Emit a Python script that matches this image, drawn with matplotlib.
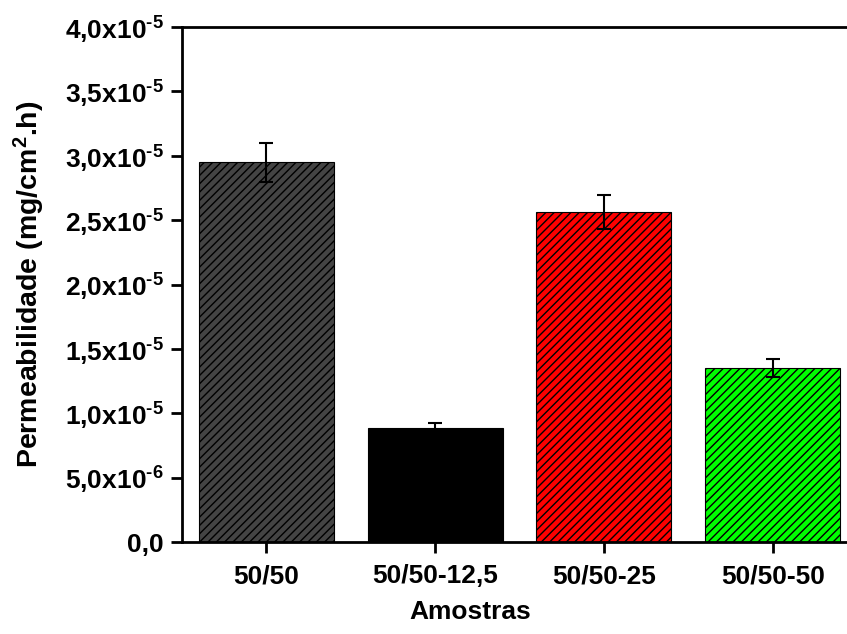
import matplotlib
matplotlib.use("Agg")
import matplotlib.pyplot as plt
from matplotlib.ticker import FixedLocator, FuncFormatter

plt.rcParams["font.family"] = ["Liberation Sans", "DejaVu Sans"]
plt.rcParams["font.weight"] = "bold"
plt.rcParams["mathtext.fontset"] = "custom"
plt.rcParams["mathtext.rm"] = "Liberation Sans:bold"
plt.rcParams["mathtext.bf"] = "Liberation Sans:bold"
plt.rcParams["mathtext.default"] = "bf"
plt.rcParams["hatch.linewidth"] = 1.0

samples = ["50/50", "50/50-12,5", "50/50-25", "50/50-50"]
permeability = [2.95e-5, 0.885e-5, 2.565e-5, 1.355e-5]
errors = [0.15e-5, 0.04e-5, 0.13e-5, 0.07e-5]
colors = ["#444444", "#000000", "#ff0000", "#00ff00"]

y_ticks = [0, 5e-6, 1e-5, 1.5e-5, 2e-5, 2.5e-5, 3e-5, 3.5e-5, 4e-5]


def sci_label(v, _pos=None):
    if v == 0:
        return "0,0"
    exp = 0
    m = v
    while m < 1:
        m *= 10
        exp -= 1
    return f"{m:.1f}".replace(".", ",") + "x10$^{\\text{" + str(exp) + "}}$"


fig = plt.figure(figsize=(8.47, 6.34), dpi=100)
ax = fig.add_axes([0.2149, 0.1451, 0.7851, 0.8123])

x = list(range(len(samples)))
ax.bar(x, permeability, width=0.8, color=colors, edgecolor="black",
       linewidth=0.8, hatch="////")
ax.errorbar(x, permeability, yerr=errors, fmt="none", ecolor="black",
            elinewidth=1.5, capsize=5, capthick=1.5)

ax.set_xlim(-0.5, 3.44)
ax.set_ylim(0, 4e-5)
ax.yaxis.set_major_locator(FixedLocator(y_ticks))
ax.yaxis.set_major_formatter(FuncFormatter(sci_label))
ax.set_xticks(x)
ax.set_xticklabels(samples)

for side in ["left", "bottom", "top"]:
    ax.spines[side].set_linewidth(2)
ax.spines["right"].set_visible(False)
ax.tick_params(axis="both", direction="out", width=2, length=8, labelsize=19)
ax.tick_params(axis="x", pad=8)
ax.tick_params(axis="y", pad=5)

ax.set_xlabel("Amostras", fontsize=19, fontweight="bold")
ax.set_ylabel("Permeabilidade (mg/cm$^2$.h)", fontsize=20.5, fontweight="bold")
ax.xaxis.set_label_coords(0.433, -0.113)
ax.yaxis.set_label_coords(-0.203, 0.5)

fig.savefig("out.png", dpi=100)
